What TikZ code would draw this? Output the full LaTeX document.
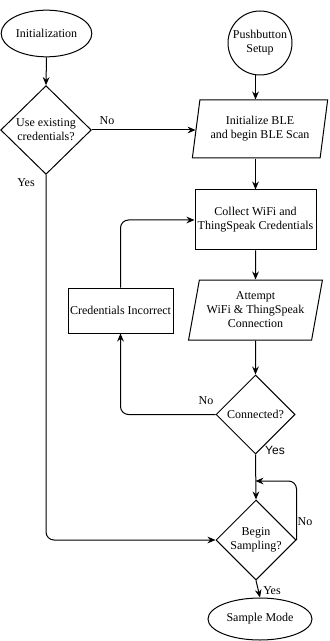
\documentclass[tikz,border=0pt]{standalone}
\usepackage{fontspec}
\setmainfont{Liberation Serif}
\newfontfamily\labelsans{Liberation Sans}
\usetikzlibrary{shapes.geometric}
\usetikzlibrary{arrows.meta}

\begin{document}
\begin{tikzpicture}[x=0.75pt,y=-0.75pt,line width=0.75pt,
  >={Stealth[length=6pt,width=5pt]},
  every node/.style={font=\fontsize{9}{10.5}\selectfont},
  terminal/.style={draw,ellipse,inner sep=1pt},
  process/.style={draw,rectangle,align=center,inner sep=1pt},
  io/.style={draw,trapezium,trapezium stretches=true,align=center,inner sep=1pt},
  decision/.style={draw,diamond,align=center,inner sep=0pt}]

       \useasboundingbox (0,0) rectangle (329,641);

       % start points
       \node (init) [terminal,minimum width=68pt,minimum height=35pt] at (46.5,33.5) {Initialization};
       \node (push) [draw,circle,align=center,minimum size=48pt,inner sep=0pt] at (260,43) {Pushbutton\\Setup};

       % main column
       \node (use) [decision,minimum width=68pt,minimum height=66.5pt] at (46,130) {Use existing\\credentials?};
       \node (ble) [io,trapezium left angle=77,trapezium right angle=103,minimum width=102pt,minimum height=43.5pt] at (260,129) {Initialize BLE\\and begin BLE Scan};
       \node (collect) [process,minimum width=90.75pt,minimum height=45pt] at (255.5,220) {Collect WiFi and\\ThingSpeak Credentials};
       \node (attempt) [io,trapezium left angle=76,trapezium right angle=104,minimum width=101pt,minimum height=45pt] at (255.5,310) {Attempt\\WiFi \& ThingSpeak\\Connection};
       \node (wrong) [process,minimum width=78.75pt,minimum height=33.75pt] at (120.5,310.5) {Credentials Incorrect};
       \node (conn) [decision,minimum width=59.25pt,minimum height=59.25pt] at (255.5,414.5) {Connected?};
       \node (sampling) [decision,minimum width=60pt,minimum height=60pt] at (256,540) {Begin\\Sampling?};
       \node (sample) [terminal,minimum width=78pt,minimum height=31.5pt] at (260,619) {Sample Mode};

       \coordinate (loop) at (255.5,481);

       % connectors
       \draw [->] (init.south) -- (use.north);
       \draw [->] (use.east) -- (use.east -| ble.west);
       \draw [->,rounded corners=6pt] (use.south) |- (sampling.west);
       \draw [->] (push.south -| collect.north) -- (ble.north -| collect.north);
       \draw [->] (ble.south -| collect.north) -- (collect.north);
       \draw [->] (collect.south) -- (attempt.north);
       \draw [->] (attempt.south) -- (conn.north);
       \draw [->,rounded corners=6pt] (conn.west) -| (wrong.south);
       \draw [->,rounded corners=6pt] (wrong.north) |- (collect.west);
       \draw [->] (conn.south) -- (sampling.north);
       \draw [->,rounded corners=6pt] (sampling.east) |- (loop);
       \draw [->] (sampling.south) -- (sample.north);

       % branch labels
       \node (noA) at (107,121) {No};
       \node (yesA) at (26,183) {Yes};
       \node (noB) at (206,401) {No};
       \node (yesB) at (275,450) {\labelsans Yes};
       \node (noC) at (305,522) {No};
       \node (yesC) at (272,591) {Yes};

\end{tikzpicture}
\end{document}
